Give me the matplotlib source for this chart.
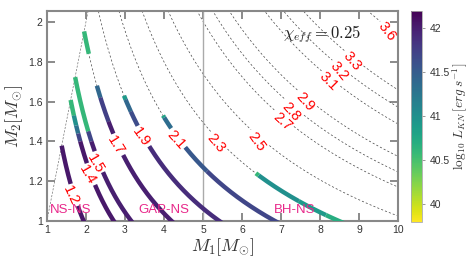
import numpy as np
import matplotlib
matplotlib.use("Agg")
import matplotlib.pyplot as plt
from matplotlib.patches import Polygon
from matplotlib.colors import Normalize

plt.rcParams['font.family'] = ['Liberation Sans', 'DejaVu Sans']
plt.rcParams['mathtext.fontset'] = 'cm'
plt.rcParams['lines.dashed_pattern'] = [3.0, 3.0]

# chirp mass contour levels, label positions and label angles
mc_levels = [1.2, 1.4, 1.5, 1.7, 1.9, 2.1, 2.3, 2.5, 2.7, 2.8, 2.9, 3.1, 3.2, 3.3, 3.6]
label_m1 = [1.62, 2.05, 2.23, 2.77, 3.41, 4.31, 5.33, 6.38, 7.03, 7.26, 7.62, 8.21, 8.49, 8.82, 9.72]
label_m2 = [1.126, 1.23, 1.29, 1.38, 1.42, 1.41, 1.39, 1.40, 1.50, 1.55, 1.60, 1.70, 1.755, 1.805, 1.95]
label_rot = [-65, -60, -60, -58, -55, -48, -50, -54, -42, -48, -48, -45, -50, -50, -52]

# kilonova tracks along chirp mass lines: m2 breakpoints (top -> bottom), log10 L per piece
track_mc = [1.2, 1.4, 1.5, 1.7, 1.7, 1.9, 2.1, 2.3]
track_m2 = [
    [1.40, 1.00],
    [1.62, 1.53, 1.48, 1.44, 1.40, 1.00],
    [1.75, 1.45, 1.40, 1.00],
    [1.96, 1.86],
    [1.68, 1.62, 1.50, 1.00],
    [1.63, 1.61, 1.55, 1.45, 1.00],
    [1.53, 1.52, 1.45, 1.25, 1.00],
    [1.24, 1.23, 1.10, 1.03, 1.00],
]
track_logL = [
    [42.05],
    [40.6, 41.0, 41.3, 41.7, 42.05],
    [40.6, 41.7, 42.0],
    [40.6],
    [41.4, 41.75, 42.0],
    [40.9, 41.4, 41.65, 41.9],
    [40.8, 41.35, 41.55, 41.7],
    [40.6, 41.0, 40.9, 40.7],
]

regions = ['NS-NS', 'GAP-NS', 'BH-NS']
region_x = [1.6, 4.0, 7.35]

vmin, vmax = 39.8, 42.2
cmap = plt.get_cmap('viridis_r')
norm = Normalize(vmin, vmax)


def chirp(m1, m2):
    return (m1 * m2) ** 0.6 / (m1 + m2) ** 0.2


fig = plt.figure(figsize=(4.69, 2.64), dpi=100)
ax = fig.add_axes([0.100, 0.163, 0.749, 0.795])
ax.set_xlim(1, 10)
ax.set_ylim(1, 2.055)

# dashed chirp mass contours, only in the m2 <= m1 half
m1g, m2g = np.meshgrid(np.linspace(0.9, 10.5, 600), np.linspace(0.9, 2.2, 400))
cs = ax.contour(m1g, m2g, chirp(m1g, m2g), levels=mc_levels, colors='#444444',
                linewidths=0.5, linestyles='dashed', zorder=2)
ax.clabel(cs, manual=list(zip(label_m1, label_m2)), inline=True, inline_spacing=2,
          fontsize=10.5, colors='red', fmt='%.1f')
for t in cs.labelTexts:
    i = mc_levels.index(float(t.get_text()))
    t.set_rotation(label_rot[i])
    t.set_position((label_m1[i], label_m2[i]))
    t.set_zorder(5)
tri = Polygon([(0, 0), (20, 0), (20, 20)], transform=ax.transData)
cs.set_clip_path(tri)
ax.axline((1, 1), slope=1, color='#777777', lw=0.5, ls=(0, (3, 2)), zorder=2)

ax.axvline(5, color='#aaaaaa', lw=1.0, zorder=2)

# coloured tracks, one line per constant piece, broken where the label sits
q = np.linspace(0.05, 1.0, 3000)
for mc, m2b, vals in zip(track_mc, track_m2, track_logL):
    m1 = mc * q ** -0.6 * (1 + q) ** 0.2
    m2 = mc * q ** 0.4 * (1 + q) ** 0.2
    keep = (m2 <= m2b[0]) & (m2 >= m2b[-1] - 0.02)
    x, y = m1[keep], m2[keep]
    piece = np.clip(np.searchsorted(-np.array(m2b), -y) - 1, 0, len(vals) - 1)
    li = mc_levels.index(mc)
    pix = ax.transData.transform(np.column_stack([x, y]))
    lab = ax.transData.transform((label_m1[li], label_m2[li]))
    gap = np.hypot(*(pix - lab).T) < 12
    for k, v in enumerate(vals):
        ii = np.where(piece == k)[0]
        if len(ii) == 0:
            continue
        sl = slice(max(ii[0] - 1, 0), ii[-1] + 1)
        xs = np.where(gap[sl], np.nan, x[sl])
        ax.plot(xs, y[sl], color=cmap(norm(v)), lw=3.2, solid_capstyle='butt', zorder=3)

for name, xr in zip(regions, region_x):
    ax.text(xr, 1.055, name, color='#e8288a', fontsize=9.5, ha='center', va='center', zorder=4)

ax.text(7.05, 1.94, r'$\chi_{eff} = 0.25$', fontsize=12, ha='left', va='center', color='#222222')

ax.set_xticks(range(1, 11))
ax.set_yticks([1, 1.2, 1.4, 1.6, 1.8, 2])
ax.set_yticklabels(['1', '1.2', '1.4', '1.6', '1.8', '2'])
ax.tick_params(direction='in', length=6, width=1.2, color='#777777', labelsize=7.5,
               labelcolor='#333333', top=True, right=True, pad=3)
for s in ax.spines.values():
    s.set_color('#888888')
    s.set_linewidth(1.5)
ax.set_xlabel(r'$M_1[M_{\odot}]$', fontsize=13, color='#333333', labelpad=1)
ax.set_ylabel(r'$M_2[M_{\odot}]$', fontsize=13, color='#333333', labelpad=2)

cax = fig.add_axes([0.876, 0.159, 0.0235, 0.80])
sm = plt.cm.ScalarMappable(norm=norm, cmap=cmap)
cb = fig.colorbar(sm, cax=cax, ticks=[40, 40.5, 41, 41.5, 42])
cb.ax.set_yticklabels(['40', '40.5', '41', '41.5', '42'])
cb.ax.tick_params(labelsize=7.5, labelcolor='#333333', length=2, width=0.6, color='#888888')
cb.outline.set_edgecolor('#aaaaaa')
cb.outline.set_linewidth(0.6)
cb.set_label(r'$\log_{10}\, L_{KN}\, [erg\; s^{-1}]$', fontsize=9.5, color='#333333', labelpad=0)

fig.savefig('out.png', dpi=100)
